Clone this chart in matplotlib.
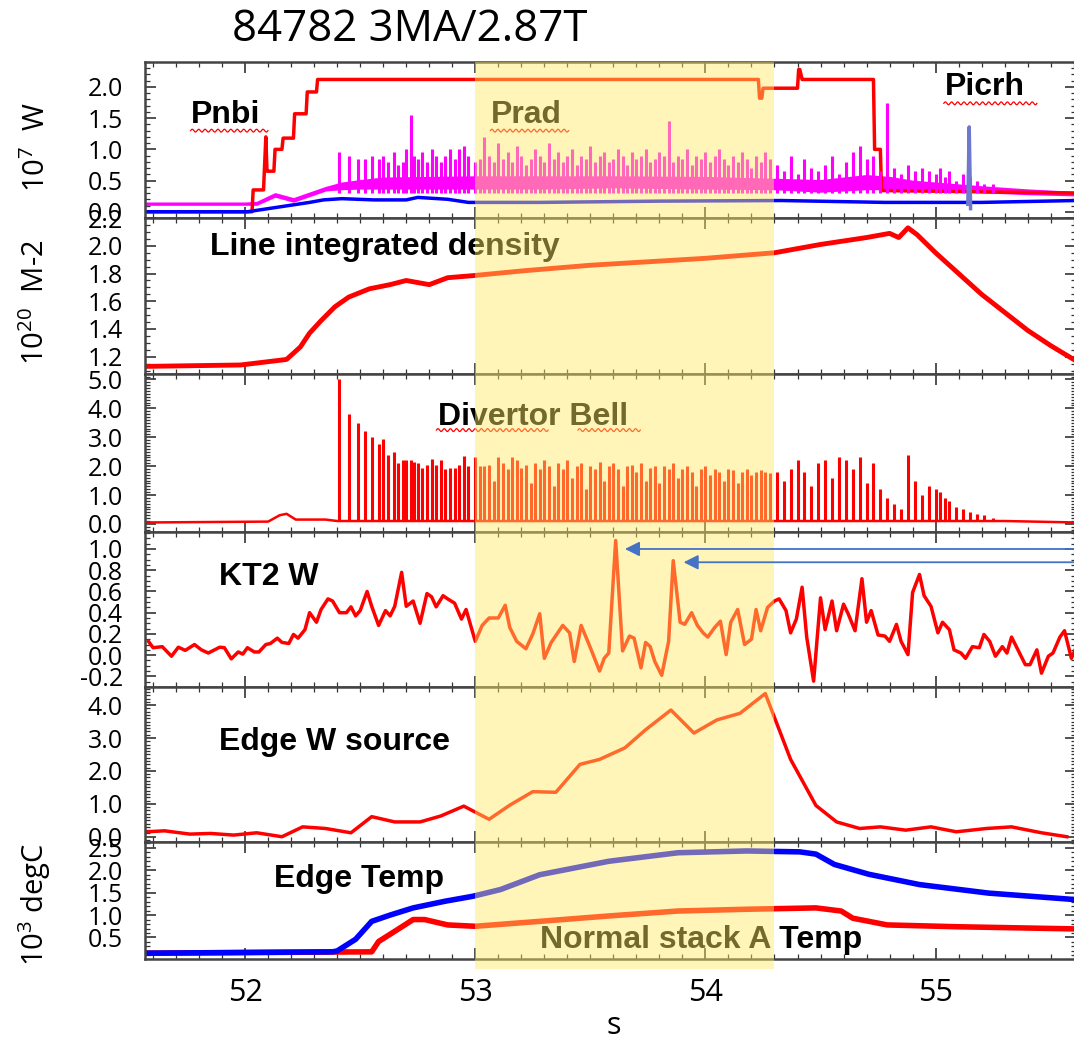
import numpy as np
import matplotlib.pyplot as plt
from matplotlib.patches import Rectangle, ConnectionPatch
from matplotlib.ticker import MultipleLocator, FormatStrFormatter

plt.rcParams['font.family'] = ['Open Sans', 'DejaVu Sans']
plt.rcParams['mathtext.fontset'] = 'custom'
plt.rcParams['mathtext.rm'] = 'Open Sans'
plt.rcParams['mathtext.default'] = 'regular'

# ---------------- data ----------------
shot_title = "84782 3MA/2.87T"
window = [53.0, 54.3]          # yellow highlighted interval (s)

# panel 1 : powers (10^7 W)
pnbi_t = [51.57, 52.03, 52.035, 52.08, 52.09, 52.095, 52.10, 52.125, 52.13, 52.16, 52.165,
          52.21, 52.215, 52.265, 52.27, 52.31, 52.315, 54.23, 54.235, 54.245, 54.25, 54.38,
          54.40, 54.405, 54.41, 54.42, 54.425, 54.73, 54.735, 54.76, 54.765, 55.61]
pnbi_v = [0.0, 0.0, 0.35, 0.35, 1.2, 0.65, 0.65, 0.65, 1.0, 1.0, 1.18,
          1.18, 1.57, 1.57, 1.92, 1.92, 2.12, 2.12, 1.82, 1.82, 1.98, 1.98,
          1.98, 2.28, 2.28, 2.12, 2.12, 2.12, 1.0, 1.0, 0.34, 0.3]

prad_t = [51.57, 52.00, 52.05, 52.13, 52.21, 52.35, 52.42, 52.50, 52.60, 52.80, 53.00, 53.30,
          53.60, 54.00, 54.30, 54.50, 54.70, 54.80, 54.90, 55.00, 55.20, 55.40, 55.61]
prad_lo = [0.12, 0.12, 0.12, 0.25, 0.17, 0.35, 0.37, 0.38, 0.38, 0.38, 0.38, 0.38,
           0.40, 0.38, 0.37, 0.33, 0.37, 0.37, 0.38, 0.36, 0.32, 0.29, 0.27]
prad_hi = [0.14, 0.14, 0.15, 0.29, 0.21, 0.39, 0.46, 0.50, 0.54, 0.55, 0.56, 0.56,
           0.56, 0.55, 0.52, 0.50, 0.58, 0.55, 0.49, 0.46, 0.40, 0.35, 0.31]

blue_t = [51.57, 52.01, 52.28, 52.34, 52.42, 52.56, 52.70, 52.75, 52.88, 52.97, 53.28,
          53.80, 54.33, 54.78, 55.20, 55.61]
blue_v = [0.0, 0.0, 0.15, 0.19, 0.21, 0.19, 0.19, 0.23, 0.20, 0.15, 0.15,
          0.17, 0.18, 0.15, 0.15, 0.18]

picrh_t = [55.14, 55.146, 55.152]
picrh_v = [0.12, 1.36, 0.05]

# ELM times, shared by divertor bell and Prad spikes
elm_t = [52.41, 52.45, 52.49, 52.52, 52.55, 52.58, 52.60, 52.62, 52.645, 52.665, 52.685, 52.70,
         52.72, 52.735, 52.75, 52.77, 52.79, 52.81, 52.83, 52.85, 52.87, 52.89, 52.91, 52.93,
         52.95, 52.97,
         53.00, 53.02, 53.04, 53.06, 53.08, 53.10, 53.12, 53.14, 53.16, 53.18, 53.20, 53.22,
         53.24, 53.26, 53.28, 53.30, 53.32, 53.34, 53.36, 53.38, 53.40, 53.42, 53.44, 53.46,
         53.48, 53.50, 53.52, 53.54, 53.56, 53.58, 53.60, 53.62, 53.64, 53.66, 53.68, 53.70,
         53.72, 53.74, 53.76, 53.78, 53.80, 53.82, 53.84, 53.86, 53.88, 53.90, 53.92, 53.94,
         53.96, 53.98, 54.00, 54.02, 54.04, 54.06, 54.08, 54.10, 54.12, 54.14, 54.16, 54.18,
         54.20, 54.22, 54.24, 54.26, 54.28,
         54.31, 54.34, 54.37, 54.40, 54.43, 54.46, 54.49, 54.52, 54.55, 54.58, 54.61, 54.64,
         54.67, 54.70, 54.73, 54.76, 54.79, 54.82, 54.85, 54.88, 54.91, 54.94, 54.97, 55.00,
         55.02, 55.04, 55.06, 55.09, 55.12, 55.15, 55.18, 55.21, 55.25]

prad_spk = [0.95, 0.9, 0.85, 0.85, 0.9, 0.85, 0.9, 0.8, 0.95, 0.75, 0.8, 1.0,
            1.55, 0.9, 0.85, 0.95, 0.8, 1.0, 0.9, 0.8, 0.9, 1.0, 0.85, 1.0,
            1.05, 0.9,
            0.8, 0.85, 1.2, 0.9, 0.8, 1.1, 0.85, 0.95, 0.8, 1.05,
            0.9, 0.75, 0.85, 1.0, 0.9, 0.8, 1.1, 0.85, 0.95, 0.8,
            0.9, 1.0, 0.75, 0.9, 0.85, 1.05, 0.8, 0.9, 0.95, 0.8,
            0.85, 1.0, 0.9, 0.75, 0.95, 0.85, 0.9, 1.0, 0.8, 0.85,
            0.95, 0.9, 1.45, 0.8, 0.9, 0.85, 1.0, 0.75, 0.9, 0.85,
            0.95, 0.8, 0.9, 1.0, 0.85, 0.75, 0.9, 0.8, 0.95, 0.85,
            0.7, 0.9, 0.8, 0.95, 0.85,
            0.75, 0.65, 0.9, 0.6, 0.85, 0.7, 0.65, 0.75, 0.9, 0.6,
            0.8, 0.95, 1.05, 0.85, 0.9, 0.65, 1.75, 0.7, 0.6, 0.75,
            0.65, 0.7, 0.65, 0.6, 0.7, 0.55, 0.65, 0.5, 0.6, 0.55,
            0.5, 0.45, 0.45]

# panel 2 : line integrated density (10^20 m-2)
dens_t = [51.57, 51.98, 52.18, 52.24, 52.28, 52.33, 52.39, 52.45, 52.54, 52.63, 52.70, 52.80,
          52.88, 52.99, 53.21, 53.50, 54.00, 54.30, 54.50, 54.70, 54.80, 54.84, 54.88, 54.92,
          55.00, 55.10, 55.20, 55.30, 55.40, 55.50, 55.61]
dens_v = [1.13, 1.14, 1.18, 1.27, 1.37, 1.46, 1.56, 1.63, 1.69, 1.72, 1.75, 1.72,
          1.77, 1.785, 1.82, 1.86, 1.91, 1.95, 2.01, 2.06, 2.09, 2.06, 2.13, 2.08,
          1.95, 1.80, 1.65, 1.52, 1.39, 1.28, 1.17]

# panel 3 : divertor bell
bell_base_t = [51.57, 52.10, 52.15, 52.18, 52.22, 52.35, 52.40, 55.30, 55.61]
bell_base_v = [0.05, 0.08, 0.30, 0.35, 0.15, 0.15, 0.10, 0.10, 0.05]
bell_spk = [5.0, 3.8, 3.5, 3.2, 3.0, 2.75, 2.95, 2.4, 2.5, 2.1, 2.2, 2.2,
            2.2, 2.15, 2.1, 1.95, 2.05, 2.25, 2.05, 2.2, 1.9, 1.95, 1.95, 2.05,
            2.35, 2.0,
            2.3, 2.0, 2.0, 2.05, 1.5, 2.3, 2.1, 1.9, 2.3, 2.2,
            1.95, 2.05, 1.4, 2.1, 1.9, 2.2, 2.0, 1.3, 2.1, 1.9,
            2.2, 1.6, 2.0, 2.1, 1.2, 2.0, 1.9, 2.15, 1.5, 2.0,
            2.1, 1.9, 1.3, 2.0, 2.05, 1.8, 2.1, 1.5, 1.95, 2.0,
            1.4, 2.0, 1.9, 2.1, 1.6, 1.9, 2.0, 1.8, 1.3, 1.9,
            2.0, 1.7, 1.9, 1.8, 1.5, 1.9, 1.85, 1.4, 1.8, 1.9,
            1.7, 1.8, 1.85, 1.8, 1.75,
            1.8, 1.5, 1.9, 2.2, 1.8, 1.3, 2.1, 2.2, 1.6, 2.3,
            2.2, 1.9, 2.3, 1.4, 2.1, 1.2, 0.9, 0.7, 0.5, 2.4,
            1.5, 1.0, 1.3, 1.2, 1.1, 0.9, 0.8, 0.6, 0.5, 0.4,
            0.35, 0.3, 0.2]

# panel 4 : KT2 W
kt2_t = [51.58, 51.60, 51.64, 51.68, 51.71, 51.74, 51.78, 51.81, 51.84, 51.89, 51.91, 51.94,
         51.97, 51.99, 52.01, 52.04, 52.06, 52.09, 52.11, 52.14, 52.16, 52.19, 52.21, 52.23,
         52.26, 52.28, 52.31, 52.33, 52.36, 52.38, 52.41, 52.44, 52.46, 52.48, 52.50, 52.53,
         52.55, 52.58, 52.61, 52.63, 52.65, 52.68, 52.70, 52.73, 52.76, 52.79, 52.81, 52.83,
         52.86, 52.88, 52.91, 52.94, 52.96, 53.00, 53.03, 53.06, 53.10, 53.13, 53.15, 53.18,
         53.22, 53.25, 53.28, 53.30, 53.33, 53.38, 53.41, 53.43, 53.46, 53.50, 53.54, 53.56,
         53.58, 53.61, 53.64, 53.67, 53.69, 53.72, 53.74, 53.76, 53.78, 53.81, 53.84, 53.86,
         53.89, 53.91, 53.94, 53.965, 53.99, 54.01, 54.04, 54.065, 54.09, 54.11, 54.14, 54.17,
         54.20, 54.22, 54.24, 54.27, 54.30, 54.32, 54.35, 54.37, 54.395, 54.42, 54.44, 54.47,
         54.50, 54.52, 54.55, 54.57, 54.60, 54.62, 54.65, 54.68, 54.70, 54.72, 54.75, 54.78,
         54.80, 54.83, 54.85, 54.88, 54.90, 54.93, 54.95, 54.98, 55.01, 55.03, 55.06, 55.08,
         55.11, 55.13, 55.16, 55.19, 55.21, 55.235, 55.26, 55.29, 55.31, 55.33, 55.36, 55.39,
         55.41, 55.44, 55.46, 55.49, 55.51, 55.54, 55.56, 55.59, 55.61]
kt2_v = [0.13, 0.07, 0.08, -0.01, 0.075, 0.045, 0.10, 0.05, 0.02, 0.075, 0.07, -0.035,
         0.03, 0.01, 0.07, 0.03, 0.03, 0.10, 0.11, 0.16, 0.12, 0.11, 0.195, 0.16,
         0.24, 0.40, 0.31, 0.43, 0.53, 0.51, 0.40, 0.40, 0.455, 0.37, 0.42, 0.60,
         0.46, 0.28, 0.42, 0.37, 0.46, 0.78, 0.46, 0.51, 0.30, 0.58, 0.55, 0.455,
         0.56, 0.53, 0.49, 0.34, 0.43, 0.13, 0.28, 0.35, 0.35, 0.47, 0.26, 0.13,
         0.06, 0.20, 0.39, -0.03, 0.12, 0.28, 0.21, -0.06, 0.28, 0.07, -0.15, -0.03,
         0.02, 1.08, 0.04, 0.18, 0.16, -0.12, 0.12, 0.08, -0.06, -0.19, 0.13, 0.89,
         0.31, 0.29, 0.40, 0.28, 0.21, 0.17, 0.26, 0.32, 0.005, 0.31, 0.43, 0.10,
         0.15, 0.43, 0.23, 0.45, 0.51, 0.53, 0.42, 0.21, 0.34, 0.64, 0.17, -0.245,
         0.54, 0.24, 0.51, 0.23, 0.48, 0.39, 0.23, 0.72, 0.31, 0.42, 0.19, 0.18,
         0.13, 0.29, 0.13, 0.005, 0.59, 0.76, 0.56, 0.46, 0.21, 0.31, 0.24, 0.05,
         0.02, -0.03, 0.08, 0.07, 0.195, 0.13, -0.01, 0.08, 0.02, 0.17, 0.04, -0.09,
         -0.09, 0.05, -0.17, -0.01, 0.02, 0.17, 0.23, -0.03, 0.07]
arrow_tip_t = [53.65, 53.905]
arrow_tip_v = [1.0, 0.875]

# panel 5 : edge W source
ew_t = [51.57, 51.65, 51.76, 51.85, 51.95, 52.05, 52.16, 52.25, 52.35, 52.46, 52.55, 52.65,
        52.76, 52.85, 52.95, 53.06, 53.15, 53.25, 53.35, 53.455, 53.54, 53.65, 53.74, 53.85,
        53.95, 54.05, 54.15, 54.26, 54.37, 54.48, 54.57, 54.67, 54.76, 54.87, 54.98, 55.09,
        55.22, 55.33, 55.46, 55.57]
ew_v = [0.15, 0.18, 0.08, 0.10, 0.05, 0.12, 0.0, 0.30, 0.25, 0.12, 0.61, 0.45,
        0.45, 0.63, 0.93, 0.53, 0.96, 1.37, 1.35, 2.2, 2.35, 2.7, 3.25, 3.85,
        3.15, 3.55, 3.75, 4.35, 2.35, 0.95, 0.45, 0.25, 0.30, 0.20, 0.30, 0.15,
        0.25, 0.30, 0.12, 0.0]

# panel 6 : edge temperatures (10^3 degC)
temp_edge_t = [51.57, 52.38, 52.40, 52.48, 52.55, 52.63, 52.73, 52.87, 52.99, 53.11, 53.28,
               53.58, 53.88, 54.18, 54.41, 54.48, 54.56, 54.71, 54.93, 55.23, 55.62]
temp_edge_v = [0.15, 0.18, 0.2, 0.46, 0.86, 1.0, 1.16, 1.31, 1.42, 1.57, 1.9,
               2.2, 2.39, 2.43, 2.41, 2.36, 2.13, 1.91, 1.68, 1.49, 1.34]
temp_stack_t = [51.57, 52.55, 52.58, 52.66, 52.73, 52.78, 52.88, 53.00, 53.28, 53.58, 53.88,
                54.18, 54.48, 54.59, 54.64, 54.79, 55.09, 55.62]
temp_stack_v = [0.15, 0.18, 0.41, 0.67, 0.9, 0.9, 0.78, 0.75, 0.86, 0.98, 1.09,
                1.13, 1.16, 1.09, 0.93, 0.78, 0.74, 0.69]

# ---------------- layout ----------------
W, H = 1074, 1045
edges = [62, 218, 374, 532, 687, 842, 959]      # panel borders, px from top
left_px, right_px = 145, 1076
xlim = (51.565, 55.61)

ylims = [(-0.1, 2.4), (1.075, 2.201), (-0.28, 5.19), (-0.3, 1.16), (-0.16, 4.55), (0.02, 2.63)]
majors = [0.5, 0.2, 1.0, 0.2, 1.0, 0.5]
minors = [0.1, 0.05, 0.1, 0.05, 0.1, 0.1]

RED = '#ff0000'
MAG = '#ff00ff'
BLUE = '#0000ff'

fig = plt.figure(figsize=(W / 100, H / 100), dpi=100)
axes = []
for i in range(6):
    top, bot = edges[i], edges[i + 1]
    ax = fig.add_axes([left_px / W, 1 - bot / H, (right_px - left_px) / W, (bot - top) / H])
    ax.set_xlim(*xlim)
    ax.set_ylim(*ylims[i])
    ax.xaxis.set_major_locator(MultipleLocator(1))
    ax.xaxis.set_minor_locator(MultipleLocator(0.1))
    ax.yaxis.set_major_locator(MultipleLocator(majors[i]))
    ax.yaxis.set_minor_locator(MultipleLocator(minors[i]))
    ax.yaxis.set_major_formatter(FormatStrFormatter('%.1f'))
    ax.tick_params(which='both', direction='in', top=True, right=True, color='#333333')
    ax.tick_params(which='major', length=8, width=1.2, labelsize=18, pad=16)
    ax.tick_params(which='minor', length=3.5, width=0.9)
    ax.tick_params(axis='x', labelbottom=(i == 5), labelsize=22, pad=14)
    for sp in ax.spines.values():
        sp.set_linewidth(1.8)
        sp.set_color('#444444')
    axes.append(ax)

ax1, ax2, ax3, ax4, ax5, ax6 = axes
lab = dict(fontsize=23, fontweight='bold', family=['Liberation Sans', 'DejaVu Sans'],
           va='center', ha='left')


def squiggle(ax, x0, x1, y):
    # red spell-check underline from the original slide
    n = int((x1 - x0) * 931 / 6)
    xs = np.linspace(x0, x1, 16 * n)
    ys = y + 0.009 * np.sin(np.linspace(0, 2 * np.pi * n, 16 * n))
    ax.plot(xs, ys, color=RED, lw=0.9, transform=ax.transAxes, clip_on=False)


# panel 1
ax1.plot(pnbi_t, pnbi_v, color=RED, lw=2.5)
ax1.fill_between(prad_t, prad_lo, prad_hi, color=MAG, lw=1.5)
ax1.vlines(elm_t, 0.3, prad_spk, colors=MAG, lw=2.2)
ax1.plot(blue_t, blue_v, color=BLUE, lw=2.5)
ax1.plot(picrh_t, picrh_v, color='#6e78cd', lw=2.5)
ax1.text(0.049, 0.66, 'Pnbi', transform=ax1.transAxes, **lab)
ax1.text(0.372, 0.66, 'Prad', transform=ax1.transAxes, **lab)
ax1.text(0.859, 0.84, 'Picrh', transform=ax1.transAxes, **lab)
squiggle(ax1, 0.049, 0.132, 0.56)
squiggle(ax1, 0.371, 0.455, 0.56)
squiggle(ax1, 0.858, 0.958, 0.735)

# panel 2
ax2.plot(dens_t, dens_v, color=RED, lw=3.5)
ax2.text(0.070, 0.816, 'Line integrated density', transform=ax2.transAxes, **lab)

# panel 3
ax3.plot(bell_base_t, bell_base_v, color=RED, lw=1.8)
ax3.vlines(elm_t, 0.1, bell_spk, colors=RED, lw=2.2)
ax3.text(0.315, 0.73, 'Divertor Bell', transform=ax3.transAxes, **lab)
squiggle(ax3, 0.313, 0.433, 0.645)
squiggle(ax3, 0.465, 0.532, 0.645)

# panel 4
ax4.plot(kt2_t, kt2_v, color=RED, lw=2.5)
ax4.text(0.0795, 0.71, 'KT2 W', transform=ax4.transAxes, **lab)

# panel 5
ax5.plot(ew_t, ew_v, color=RED, lw=2.5)
ax5.text(0.0795, 0.647, 'Edge W source', transform=ax5.transAxes, **lab)

# panel 6
ax6.plot(temp_stack_t, temp_stack_v, color=RED, lw=4)
ax6.plot(temp_edge_t, temp_edge_v, color=BLUE, lw=4)
ax6.text(0.1386, 0.68, 'Edge Temp', transform=ax6.transAxes, **lab)
ax6.text(0.4243, 0.16, 'Normal stack A Temp', transform=ax6.transAxes, **lab)

# axis labels and title
fig.text(37 / W, 1 - 147 / H, '10$^{7}$  W', rotation=90, ha='center', va='center', fontsize=21)
fig.text(36 / W, 1 - 302 / H, '10$^{20}$  M-2', rotation=90, ha='center', va='center', fontsize=21)
fig.text(35 / W, 1 - 905 / H, '10$^{3}$ degC', rotation=90, ha='center', va='center', fontsize=21)
fig.text(614 / W, 1 - 1026 / H, 's', ha='center', va='center', fontsize=22)
fig.text(232 / W, 1 - 30 / H, shot_title, ha='left', va='center', fontsize=31.5)

# yellow highlight over all panels
inv = fig.transFigure.inverted()
x0 = inv.transform(ax6.transData.transform((window[0], 0)))[0]
x1 = inv.transform(ax6.transData.transform((window[1], 0)))[0]
y0 = 1 - 969 / H
y1 = 1 - edges[0] / H
fig.add_artist(Rectangle((x0, y0), x1 - x0, y1 - y0, transform=fig.transFigure,
                         facecolor=(1.0, 0.92, 0.39), alpha=0.45, edgecolor='none', zorder=10))

# arrows pointing at the KT2 W spikes (drawn on top of the highlight)
for t, v in zip(arrow_tip_t, arrow_tip_v):
    fig.add_artist(ConnectionPatch((55.75, v), (t, v), coordsA=ax4.transData, coordsB=ax4.transData,
                                   arrowstyle='-|>', mutation_scale=22, lw=1.3, color='#4472c4',
                                   shrinkA=0, shrinkB=0, zorder=12))

fig.savefig('out.png', dpi=100)
